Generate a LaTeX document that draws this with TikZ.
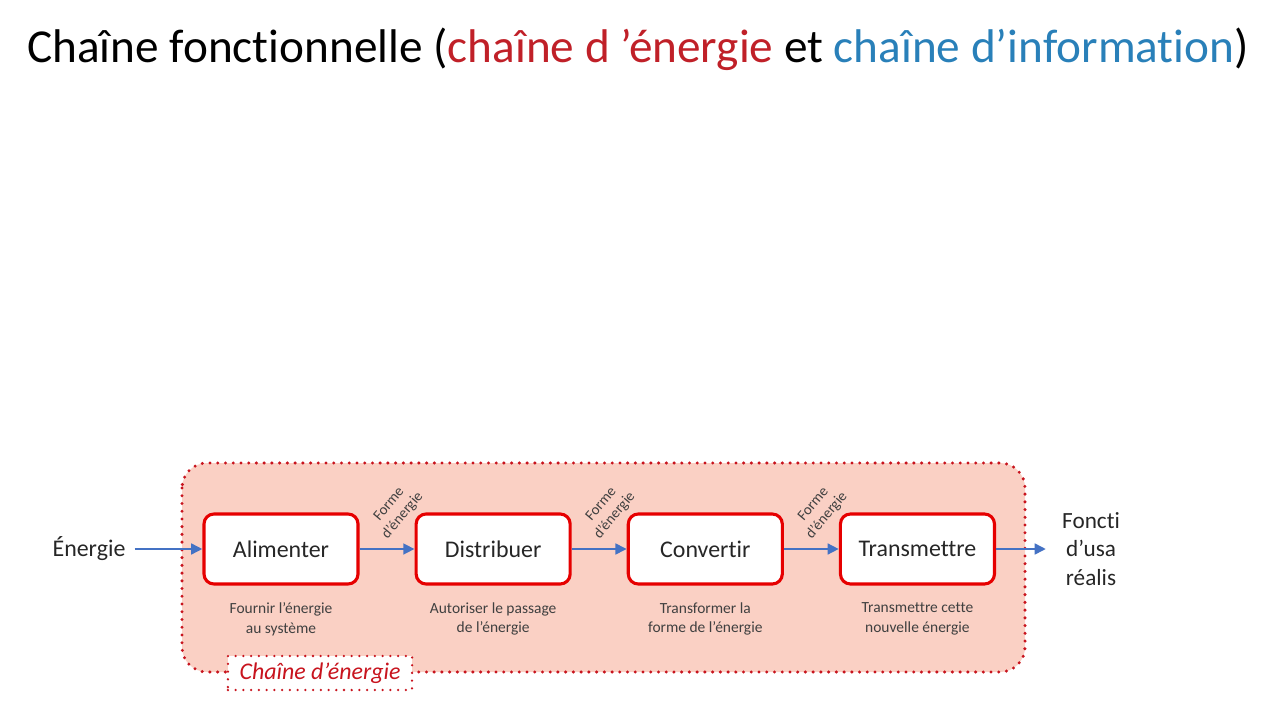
\documentclass[tikz,border=0pt]{standalone}
\usepackage{fontspec}
\setmainfont{Carlito}[Ligatures=NoCommon]
\usetikzlibrary{arrows.meta, positioning, calc}
\definecolor{boxred}{RGB}{230,0,0}
\definecolor{dotred}{RGB}{200,20,30}
\definecolor{zonefill}{RGB}{250,208,196}
\definecolor{flowblue}{RGB}{68,114,196}
\definecolor{titlered}{RGB}{192,32,40}
\definecolor{titleblue}{RGB}{41,128,185}
\definecolor{txtgray}{RGB}{64,64,64}

\begin{document}
\begin{tikzpicture}[x=0.025cm, y=-0.025cm,
    node distance=0.3cm and 1.375cm,
    fbox/.style={rectangle, rounded corners=0.25cm, draw=boxred, line width=2.2pt, fill=white,
                 minimum width=3.85cm, minimum height=1.75cm,
                 font=\fontsize{17}{20}\selectfont, text=black!85},
    desc/.style={align=center, font=\fontsize{11}{14}\selectfont, text=txtgray},
    flow/.style={-{Triangle[length=8pt, width=7.5pt]}, line width=2pt, flowblue},
    forme/.style={rotate=50, align=center, inner sep=0pt, font=\fontsize{10.5}{12.5}\selectfont, text=txtgray},
    dotline/.style={draw=dotred, line width=#1, line cap=round, dash pattern=on 0pt off 5.5pt},
    dotline/.default=2.4pt,
]
    \useasboundingbox (0,0) rectangle (1280,720);

    % titre
    \node (title) at (638,49) {\fontsize{33.6}{40}\selectfont Chaîne fonctionnelle
        (\textcolor{titlered}{chaîne d ’énergie} et \textcolor{titleblue}{chaîne d’information})};

    % zone chaine d'energie
    \draw[dotline, fill=zonefill, rounded corners=0.625cm] (182,463) rectangle (1025,672);
    \node[dotline=1.8pt, fill=white, font=\itshape\fontsize{17}{20}\selectfont, text=dotred,
          minimum width=4.6cm, minimum height=0.85cm] (chainlabel) at (320,673) {Chaîne d’énergie};

    % fonctions
    \node[fbox] (alim) at (281,549) {Alimenter};
    \node[fbox, right=of alim] (distr) {Distribuer};
    \node[fbox, right=of distr] (conv) {Convertir};
    \node[fbox, right=of conv] (trans) {Transmettre};

    \node[desc, below=of alim] (alimtxt) {Fournir l’énergie\\au système};
    \node[desc, below=of distr] (distrtxt) {Autoriser le passage\\de l’énergie};
    \node[desc, below=of conv] (convtxt) {Transformer la\\forme de l’énergie};
    \node[desc, below=of trans] (transtxt) {Transmettre cette\\nouvelle énergie};

    % entree / sortie
    \node[font=\fontsize{17}{20}\selectfont, text=black!85] (energie) at (89,549) {Énergie};
    \node[align=center, font=\fontsize{16.5}{20}\selectfont, text=black!85] (usage) at (1091,549)
        {Foncti\\d’usa\\réalis};

    % formes d'energie
    \node[forme] (forme1) at ($(alim.east)!0.5!(distr.west)+(9,-39)$) {Forme\\d’énergie};
    \node[forme] (forme2) at ($(distr.east)!0.5!(conv.west)+(9,-39)$) {Forme\\d’énergie};
    \node[forme] (forme3) at ($(conv.east)!0.5!(trans.west)+(9,-39)$) {Forme\\d’énergie};

    \draw[flow, shorten <=3pt] (energie) -- (alim);
    \draw[flow] (alim) -- (distr);
    \draw[flow] (distr) -- (conv);
    \draw[flow] (conv) -- (trans);
    \draw[flow, shorten >=8pt] (trans) -- (usage);
\end{tikzpicture}
\end{document}
